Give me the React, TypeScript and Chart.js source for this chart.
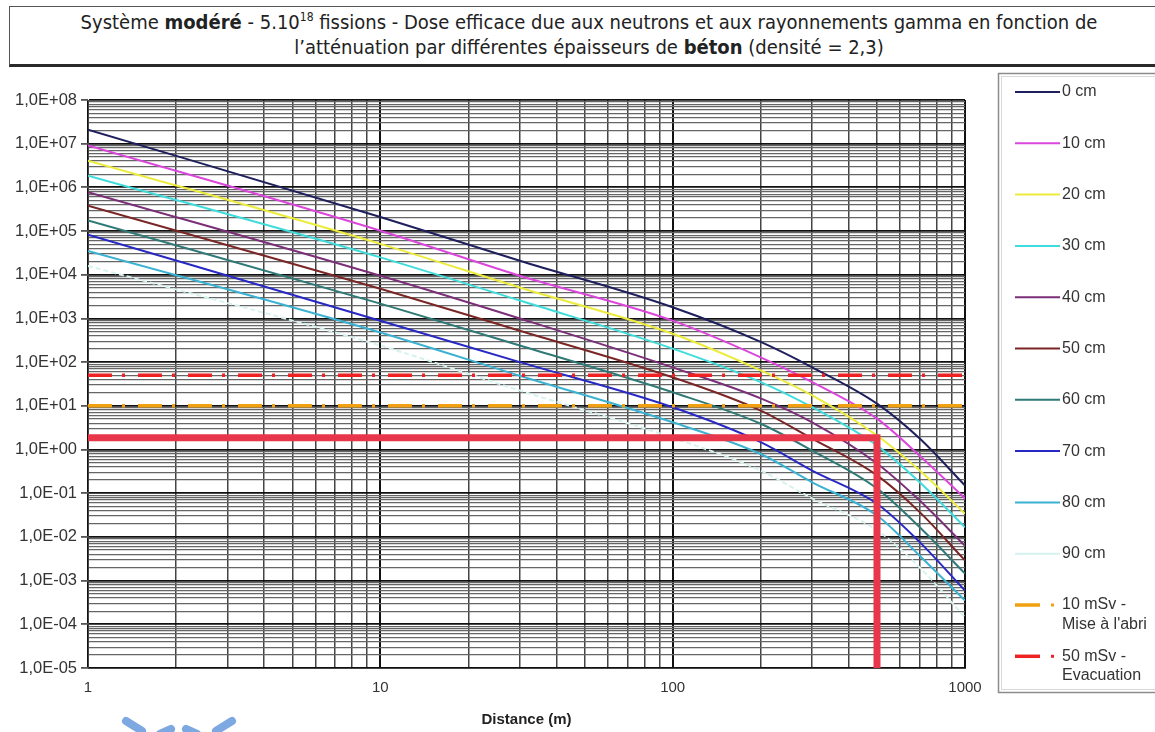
import React, { useEffect, useRef } from 'react';
import { Chart, registerables } from 'chart.js';

Chart.register(...registerables);

// ---------- DATA ----------
const distances = [1, 10, 30, 100, 200, 300, 500, 700, 1000];

const seriesNames = ['0 cm', '10 cm', '20 cm', '30 cm', '40 cm', '50 cm', '60 cm', '70 cm', '80 cm', '90 cm'];

const dose0cm = [2.1e7, 2.1e5, 2.1e4, 1.8e3, 290, 76, 11.2, 1.78, 0.15];
const dose10cm = [9.1e6, 1.02e5, 9.5e3, 890, 129, 35, 5.1, 0.72, 0.076];
const dose20cm = [4.1e6, 5.1e4, 5.1e3, 447, 65, 17.4, 2.1, 0.33, 0.034];
const dose30cm = [1.86e6, 2.5e4, 2.57e3, 204, 35, 9.3, 1.23, 0.178, 0.0166];
const dose40cm = [7.8e5, 9.5e3, 1.0e3, 76, 14.8, 4.2, 0.48, 0.068, 0.0063];
const dose50cm = [3.8e5, 4.8e3, 525, 45, 7.8, 1.78, 0.257, 0.037, 0.0029];
const dose60cm = [1.74e5, 2.19e3, 240, 20.4, 3.9, 0.95, 0.129, 0.0166, 0.00145];
const dose70cm = [8.3e4, 890, 100, 9.3, 1.48, 0.33, 0.0575, 0.0076, 5.9e-4];
const dose80cm = [3.5e4, 479, 49, 4.2, 0.79, 0.178, 0.031, 0.0037, 3.5e-4];
const dose90cm = [1.6e4, 240, 22.4, 1.86, 0.33, 0.076, 0.0141, 0.002, 1.45e-4];

const seriesValues = [dose0cm, dose10cm, dose20cm, dose30cm, dose40cm, dose50cm, dose60cm, dose70cm, dose80cm, dose90cm];
const seriesColors = ['#1e1f5c', '#dc46dc', '#ecec3c', '#40dcdc', '#7a2f78', '#7a2626', '#2f7a76', '#2828c4', '#3cb2d2', '#d6f2ef'];

const thresholdLabels = [['10 mSv -', "Mise à l'abri"], ['50 mSv -', 'Evacuation']];
const thresholdValues = [10, 50];
const thresholdColors = ['#f0a010', '#ee2222'];

const markerDistance = 500;
const markerDose = 1.85;
const markerColor = '#e8374b';

const xRange = [1, 1000];
const yRange = [1e-5, 1e8];
const xTickValues = [1, 10, 100, 1000];
const xTickLabels = ['1', '10', '100', '1000'];
const yTickValues = [1e-5, 1e-4, 1e-3, 1e-2, 1e-1, 1, 10, 100, 1e3, 1e4, 1e5, 1e6, 1e7, 1e8];
const yTickLabels = ['1,0E-05', '1,0E-04', '1,0E-03', '1,0E-02', '1,0E-01', '1,0E+00', '1,0E+01', '1,0E+02', '1,0E+03', '1,0E+04', '1,0E+05', '1,0E+06', '1,0E+07', '1,0E+08'];
const minorMultipliers = [1, 2, 3, 4, 5, 6, 7, 8, 9];

const titleLine1a = 'Système ';
const titleLine1b = 'modéré';
const titleLine1c = ' - 5.10';
const titleSup = '18';
const titleLine1d = ' fissions - Dose efficace due aux neutrons et aux rayonnements gamma en fonction de';
const titleLine2a = 'l’atténuation par différentes épaisseurs de ';
const titleLine2b = 'béton';
const titleLine2c = ' (densité = 2,3)';
const xAxisTitle = 'Distance (m)';

// ---------- helpers ----------
function isDecade(v: number) {
  const l = Math.log10(v);
  return Math.abs(l - Math.round(l)) < 1e-6;
}
function gridValues(majors: number[]) {
  const out: number[] = [];
  for (let i = 0; i < majors.length - 1; i++) {
    for (const m of minorMultipliers) out.push(majors[i] * m);
  }
  out.push(majors[majors.length - 1]);
  return out;
}
function labelFor(values: number[], labels: string[], v: number) {
  for (let i = 0; i < values.length; i++) {
    if (Math.abs(Math.log10(values[i]) - Math.log10(v)) < 1e-6) return labels[i];
  }
  return '';
}

const legendPlugin = {
  id: 'boxLegend',
  afterDraw(chart: any) {
    const ctx = chart.ctx as CanvasRenderingContext2D;
    ctx.save();
    ctx.strokeStyle = '#8c8c8c';
    ctx.lineWidth = 1.5;
    ctx.strokeRect(998.5, 73.5, 180, 619);
    ctx.strokeStyle = '#d8d8d8';
    ctx.lineWidth = 1;
    ctx.strokeRect(1001.5, 76.5, 174, 613);

    ctx.font = '16px "Liberation Sans", Arial, sans-serif';
    ctx.textBaseline = 'middle';
    ctx.textAlign = 'left';
    const items = chart.data.datasets.filter((d: any) => d.legendLines);
    items.forEach((d: any, i: number) => {
      const y = 92 + i * 51.3;
      if (d.isThreshold) {
        ctx.strokeStyle = d.borderColor;
        ctx.lineWidth = 3.5;
        ctx.beginPath();
        ctx.moveTo(1015, y);
        ctx.lineTo(1040, y);
        ctx.stroke();
        ctx.fillStyle = d.borderColor;
        ctx.fillRect(1051, y - 1.5, 3, 3);
      } else {
        ctx.strokeStyle = d.borderColor;
        ctx.lineWidth = 2;
        ctx.beginPath();
        ctx.moveTo(1015, y);
        ctx.lineTo(1060, y);
        ctx.stroke();
      }
      ctx.fillStyle = '#333';
      d.legendLines.forEach((t: string, k: number) => {
        ctx.fillText(t, 1062, y + k * 19.5);
      });
    });

    // decorative blue strokes at bottom-left
    ctx.strokeStyle = '#7ea8e2';
    ctx.lineWidth = 8;
    ctx.lineCap = 'round';
    const strokes = [
      [126, 721, 142, 731],
      [160, 734, 171, 729],
      [186, 729, 197, 734],
      [232, 721, 216, 731],
    ];
    strokes.forEach(([a, b, c, e]) => {
      ctx.beginPath();
      ctx.moveTo(a, b);
      ctx.lineTo(c, e);
      ctx.stroke();
    });
    ctx.restore();
  },
};

export default function App() {
  const canvasRef = useRef<HTMLCanvasElement | null>(null);

  useEffect(() => {
    if (!canvasRef.current) return;
    const curveSets = seriesNames.map((name, i) => ({
      label: name,
      legendLines: [name],
      data: distances.map((d, j) => ({ x: d, y: seriesValues[i][j] })),
      borderColor: seriesColors[i],
      backgroundColor: seriesColors[i],
      borderWidth: 2,
      borderDash: i === 9 ? [5, 3] : [],
      pointRadius: 0,
      cubicInterpolationMode: 'monotone' as const,
      fill: false,
      order: 3,
    }));
    const thresholdSets = thresholdValues.map((v, i) => ({
      label: thresholdLabels[i].join(' '),
      legendLines: thresholdLabels[i],
      isThreshold: true,
      data: [
        { x: xRange[0], y: v },
        { x: xRange[1], y: v },
      ],
      borderColor: thresholdColors[i],
      backgroundColor: thresholdColors[i],
      borderWidth: 3.5,
      borderDash: [24, 10, 3, 13],
      pointRadius: 0,
      fill: false,
      order: 2,
    }));
    const markerSet = {
      label: 'repère',
      data: [
        { x: xRange[0], y: markerDose },
        { x: markerDistance, y: markerDose },
        { x: markerDistance, y: yRange[0] },
      ],
      borderColor: markerColor,
      backgroundColor: markerColor,
      borderWidth: 7,
      borderJoinStyle: 'miter' as const,
      borderCapStyle: 'butt' as const,
      pointRadius: 0,
      tension: 0,
      fill: false,
      order: 1,
    };

    const xGrid = gridValues(xTickValues);
    const yGrid = gridValues(yTickValues);

    const chart = new Chart(canvasRef.current, {
      type: 'line',
      data: { datasets: [...curveSets, ...thresholdSets, markerSet] as any },
      options: {
        animation: false,
        responsive: true,
        maintainAspectRatio: false,
        events: [],
        layout: { padding: { left: 0, top: 100, right: 190, bottom: 0 } },
        plugins: {
          legend: { display: false },
          tooltip: { enabled: false },
          title: { display: false },
        },
        scales: {
          x: {
            type: 'logarithmic',
            min: xRange[0],
            max: xRange[1],
            afterBuildTicks: (scale: any) => {
              scale.ticks = xGrid.map((v) => ({ value: v }));
            },
            afterFit: (scale: any) => {
              scale.height = 64;
            },
            border: { display: true, color: '#444', width: 1 },
            grid: {
              color: (c: any) => (isDecade(c.tick.value) ? '#111' : '#444'),
              lineWidth: (c: any) => (isDecade(c.tick.value) ? 2 : 1.5),
              tickLength: 5,
              tickColor: 'rgba(0,0,0,0)',
            },
            ticks: {
              autoSkip: false,
              maxRotation: 0,
              padding: 6,
              color: '#333',
              font: { family: '"Liberation Sans", Arial, sans-serif', size: 15 },
              callback: (v: any) => labelFor(xTickValues, xTickLabels, Number(v)),
            },
            title: {
              display: true,
              text: xAxisTitle,
              color: '#222',
              font: { family: '"Liberation Sans", Arial, sans-serif', size: 15, weight: 'bold' },
              padding: { top: 0, bottom: 3 },
            },
          },
          y: {
            type: 'logarithmic',
            min: yRange[0],
            max: yRange[1],
            afterBuildTicks: (scale: any) => {
              scale.ticks = yGrid.map((v) => ({ value: v }));
            },
            afterFit: (scale: any) => {
              scale.width = 88;
            },
            border: { display: true, color: '#444', width: 1 },
            grid: {
              color: (c: any) => (isDecade(c.tick.value) ? '#111' : '#666'),
              lineWidth: (c: any) => (isDecade(c.tick.value) ? 1.8 : 1.2),
              tickLength: 7,
              tickColor: (c: any) => (isDecade(c.tick.value) ? '#555' : 'rgba(0,0,0,0)'),
            },
            ticks: {
              autoSkip: false,
              padding: 4,
              color: '#333',
              font: { family: '"Liberation Sans", Arial, sans-serif', size: 16.5 },
              callback: (v: any) => labelFor(yTickValues, yTickLabels, Number(v)),
            },
          },
        },
      } as any,
      plugins: [legendPlugin],
    });
    return () => chart.destroy();
  }, []);

  return (
    <div
      style={{
        position: 'absolute',
        left: 0,
        top: 0,
        width: 1155,
        height: 732,
        overflow: 'hidden',
        background: '#fff',
      }}
    >
      <div
        style={{
          position: 'absolute',
          left: 9,
          top: 6,
          width: 1160,
          height: 61,
          boxSizing: 'border-box',
          border: '1.5px solid #555',
          borderBottom: '3px solid #2a2a2a',
          fontFamily: '"DejaVu Sans Condensed", "DejaVu Sans", sans-serif',
          fontSize: 20,
          lineHeight: '25px',
          textAlign: 'center',
          color: '#222',
          paddingTop: 3,
          whiteSpace: 'nowrap',
        }}
      >
        {titleLine1a}
        <b>{titleLine1b}</b>
        {titleLine1c}
        <sup style={{ fontSize: '0.6em', lineHeight: 0 }}>{titleSup}</sup>
        {titleLine1d}
        <br />
        {titleLine2a}
        <b>{titleLine2b}</b>
        {titleLine2c}
      </div>
      <div style={{ position: 'absolute', left: 0, top: 0, width: 1155, height: 732 }}>
        <canvas ref={canvasRef} />
      </div>
    </div>
  );
}
